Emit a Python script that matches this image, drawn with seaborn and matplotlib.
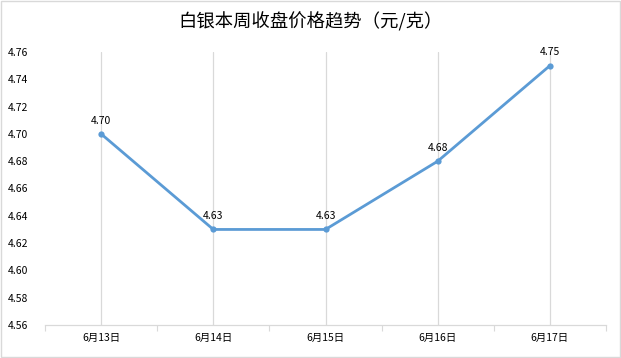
import matplotlib
matplotlib.use("Agg")
import matplotlib.pyplot as plt
import seaborn as sns
import pandas as pd
from matplotlib.patches import Rectangle
from matplotlib.ticker import FixedLocator

dates = ["6月13日", "6月14日", "6月15日", "6月16日", "6月17日"]
prices = [4.70, 4.63, 4.63, 4.68, 4.75]
y_ticks = [4.56, 4.58, 4.60, 4.62, 4.64, 4.66, 4.68, 4.70, 4.72, 4.74, 4.76]
title = "白银本周收盘价格趋势（元/克）"

sns.set_theme(style="white")
plt.rcParams['font.family'] = ['Noto Sans CJK SC', 'DejaVu Sans']

df = pd.DataFrame({"date": dates, "price": prices})

fig = plt.figure(figsize=(6.21, 3.58), dpi=100)
ax = fig.add_axes([45/621, 1-325/358, (606-45)/621, (325-52)/358])

line_color = "#5B9BD5"
sns.lineplot(data=df, x="date", y="price", ax=ax, color=line_color, linewidth=2.0,
             marker="o", markersize=4.5, markeredgewidth=0, sort=False)

ax.set_xlim(-0.5, len(dates) - 0.5)
ax.set_ylim(y_ticks[0], y_ticks[-1])
ax.set_yticks(y_ticks)
ax.set_yticklabels([f"{v:.2f}" for v in y_ticks])
ax.set_xticks(range(len(dates)))
ax.set_xticklabels(dates)
ax.set_xlabel("")
ax.set_ylabel("")

# vertical gridlines at categories
for i in range(len(dates)):
    ax.axvline(i, color="#D9D9D9", linewidth=0.9, zorder=0)

# boundary ticks
ax.xaxis.set_minor_locator(FixedLocator([i - 0.5 for i in range(len(dates) + 1)]))
ax.tick_params(axis="x", which="minor", length=4, width=0.8, color="#D9D9D9", direction="out", bottom=True)
ax.tick_params(axis="x", which="major", length=0, labelsize=7.5, pad=6, labelcolor="#000000")
ax.tick_params(axis="y", which="major", length=0, labelsize=7.5, pad=26.5, labelcolor="#000000")
for lab in ax.get_yticklabels():
    lab.set_horizontalalignment("left")

for s in ["top", "right", "left"]:
    ax.spines[s].set_visible(False)
ax.spines["bottom"].set_color("#D9D9D9")
ax.spines["bottom"].set_linewidth(0.9)

for i, v in enumerate(prices):
    ax.annotate(f"{v:.2f}", (i, v), xytext=(0, 6), textcoords="offset points",
                ha="center", va="bottom", fontsize=7.5, color="#000000")

fig.text(0.5, 1 - 22/358, title, ha="center", va="center", fontsize=13.2, color="#000000")

fig.patches.append(Rectangle((0.0015, 0.002), 0.997, 0.995, transform=fig.transFigure,
                             fill=False, edgecolor="#D9D9D9", linewidth=1.0))

fig.savefig("out.png", dpi=100)
